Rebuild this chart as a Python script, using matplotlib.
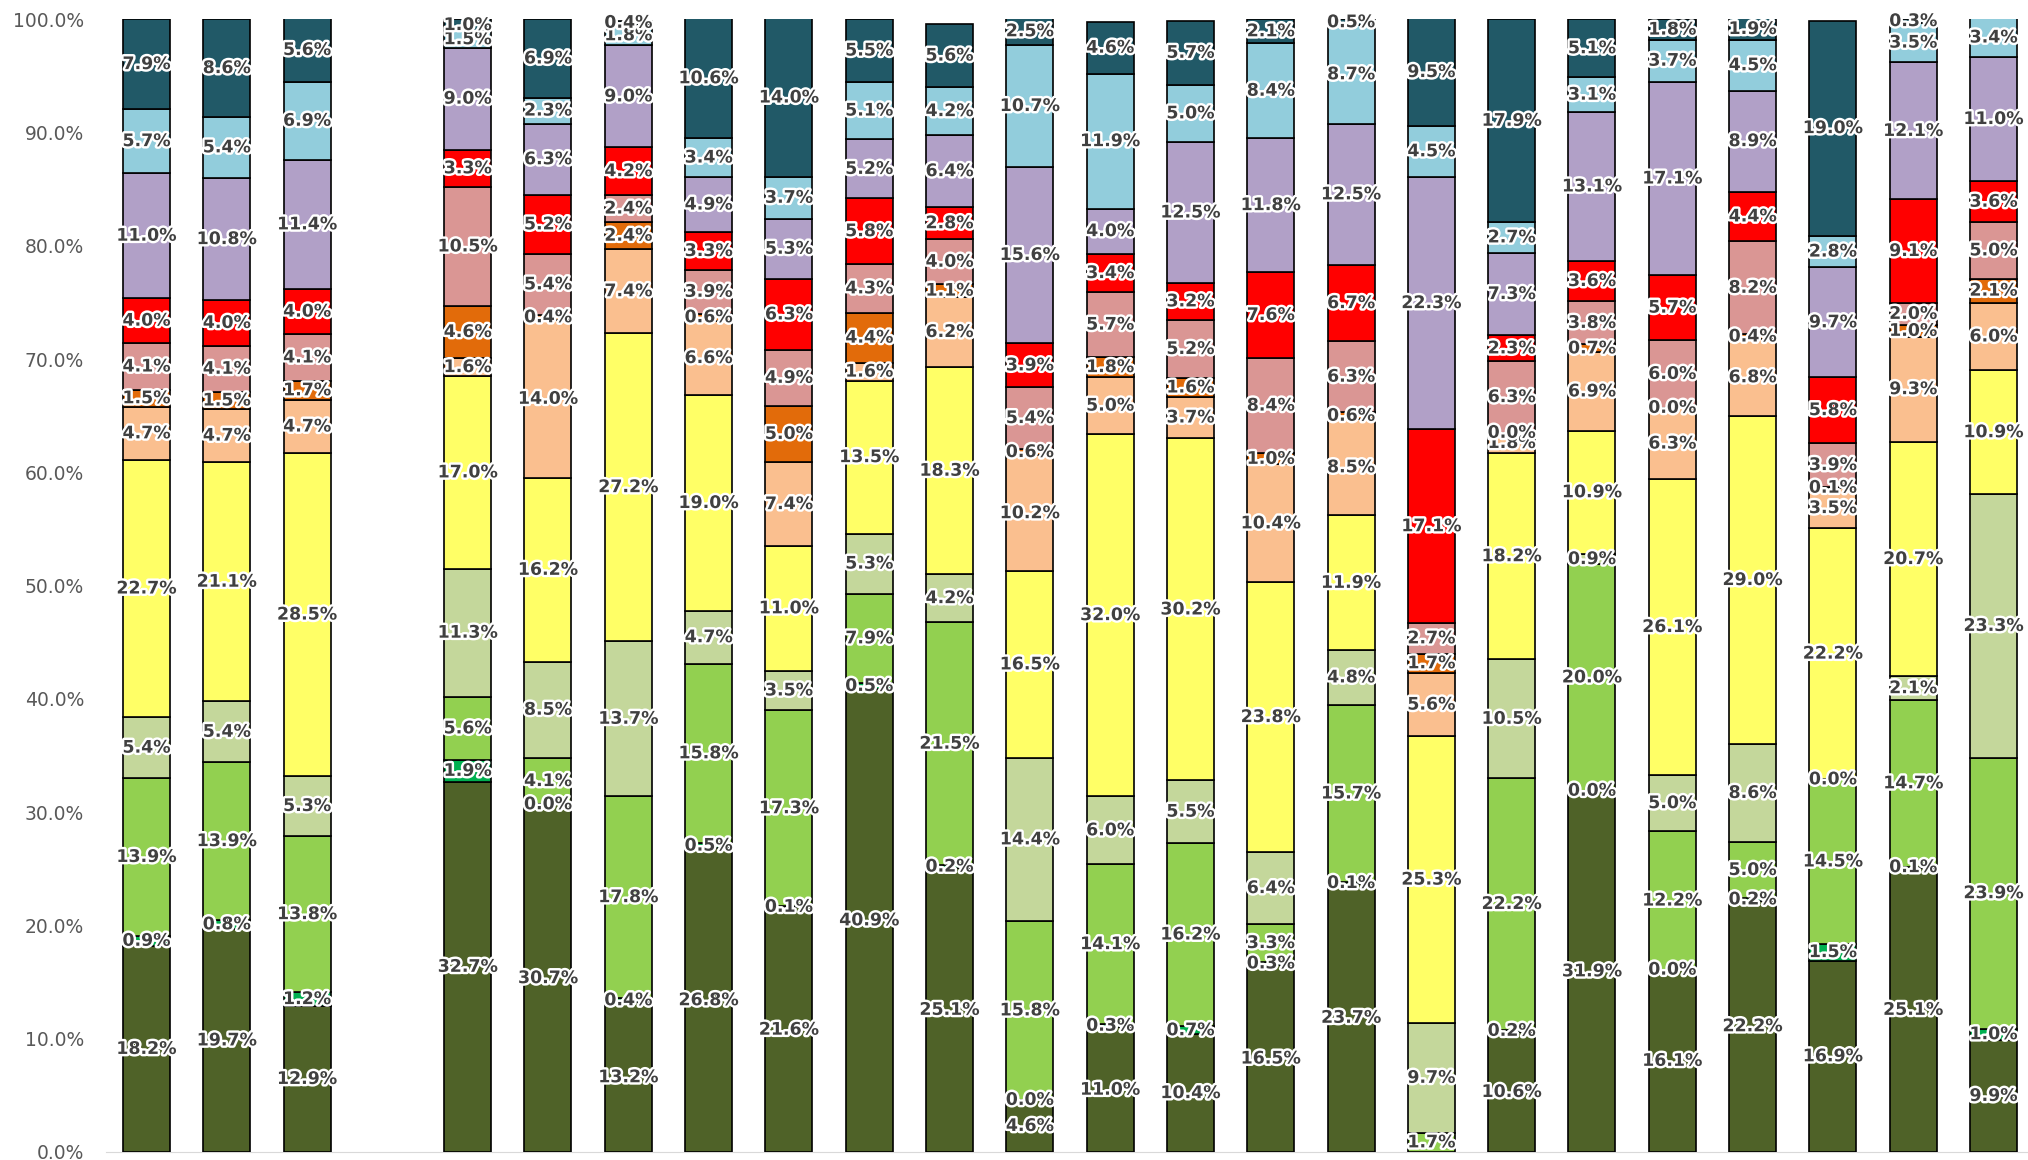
import matplotlib
matplotlib.use("Agg")
import matplotlib.pyplot as plt
import matplotlib.patheffects as pe
from matplotlib.ticker import FuncFormatter, MultipleLocator
import numpy as np

# share (%) of each class per column, stacked bottom to top; None = no entry
dark_olive = [18.2, 19.7, 12.9, 32.7, 30.7, 13.2, 26.8, 21.6, 40.9, 25.1, 4.6, 11.0,
              10.4, 16.5, 23.7, None, 10.6, 31.9, 16.1, 22.2, 16.9, 25.1, 9.9]
green = [0.9, 0.8, 1.2, 1.9, 0.0, 0.4, 0.5, 0.1, 0.5, 0.2, 0.0, 0.3,
         0.7, 0.3, 0.1, None, 0.2, 0.0, 0.0, 0.2, 1.5, 0.1, 1.0]
light_green = [13.9, 13.9, 13.8, 5.6, 4.1, 17.8, 15.8, 17.3, 7.9, 21.5, 15.8, 14.1,
               16.2, 3.3, 15.7, 1.7, 22.2, 20.0, 12.2, 5.0, 14.5, 14.7, 23.9]
pale_green = [5.4, 5.4, 5.3, 11.3, 8.5, 13.7, 4.7, 3.5, 5.3, 4.2, 14.4, 6.0,
              5.5, 6.4, 4.8, 9.7, 10.5, 0.9, 5.0, 8.6, 0.0, 2.1, 23.3]
yellow = [22.7, 21.1, 28.5, 17.0, 16.2, 27.2, 19.0, 11.0, 13.5, 18.3, 16.5, 32.0,
          30.2, 23.8, 11.9, 25.3, 18.2, 10.9, 26.1, 29.0, 22.2, 20.7, 10.9]
peach = [4.7, 4.7, 4.7, 1.6, 14.0, 7.4, 6.6, 7.4, 1.6, 6.2, 10.2, 5.0,
         3.7, 10.4, 8.5, 5.6, 1.8, 6.9, 6.3, 6.8, 3.5, 9.3, 6.0]
orange = [1.5, 1.5, 1.7, 4.6, 0.4, 2.4, 0.6, 5.0, 4.4, 1.1, 0.6, 1.8,
          1.6, 1.0, 0.6, 1.7, 0.0, 0.7, 0.0, 0.4, 0.1, 1.0, 2.1]
pink = [4.1, 4.1, 4.1, 10.5, 5.4, 2.4, 3.9, 4.9, 4.3, 4.0, 5.4, 5.7,
        5.2, 8.4, 6.3, 2.7, 6.3, 3.8, 6.0, 8.2, 3.9, 2.0, 5.0]
red = [4.0, 4.0, 4.0, 3.3, 5.2, 4.2, 3.3, 6.3, 5.8, 2.8, 3.9, 3.4,
       3.2, 7.6, 6.7, 17.1, 2.3, 3.6, 5.7, 4.4, 5.8, 9.1, 3.6]
lavender = [11.0, 10.8, 11.4, 9.0, 6.3, 9.0, 4.9, 5.3, 5.2, 6.4, 15.6, 4.0,
            12.5, 11.8, 12.5, 22.3, 7.3, 13.1, 17.1, 8.9, 9.7, 12.1, 11.0]
light_blue = [5.7, 5.4, 6.9, 1.5, 2.3, 1.8, 3.4, 3.7, 5.1, 4.2, 10.7, 11.9,
              5.0, 8.4, 8.7, 4.5, 2.7, 3.1, 3.7, 4.5, 2.8, 3.5, 3.4]
dark_teal = [7.9, 8.6, 5.6, 1.0, 6.9, 0.4, 10.6, 14.0, 5.5, 5.6, 2.5, 4.6,
             5.7, 2.1, 0.5, 9.5, 17.9, 5.1, 1.8, 1.9, 19.0, 0.3, None]

series = [
    (dark_olive, "#4F6228"),
    (green, "#00B050"),
    (light_green, "#92D050"),
    (pale_green, "#C4D79B"),
    (yellow, "#FFFF66"),
    (peach, "#FABF8F"),
    (orange, "#E26B0A"),
    (pink, "#DA9694"),
    (red, "#FF0000"),
    (lavender, "#B1A0C7"),
    (light_blue, "#92CDDC"),
    (dark_teal, "#215967"),
]

# three columns, one empty slot, then twenty columns
pos = np.array([0, 1, 2] + list(range(4, 24)))

fig = plt.figure(figsize=(20.28, 11.6), dpi=100)
ax = fig.add_axes([0.0524, 0.0069, 0.9476, 0.9764])

glow = [pe.withStroke(linewidth=3.5, foreground="white")]
bottom = np.zeros(len(pos))
for vals, col in series:
    h = np.array([0.0 if v is None else v for v in vals])
    ax.bar(pos, h, bottom=bottom, width=0.585, color=col,
           edgecolor="black", linewidth=1.2, zorder=2)
    for x, b, v in zip(pos, bottom, vals):
        if v is None:
            continue
        ax.text(x, b + v / 2, f"{v:.1f}%", ha="center", va="center",
                fontsize=12.5, fontweight="bold", color="#404040",
                path_effects=glow, zorder=5)
    bottom += h

ax.set_xlim(-0.5, 23.43)
ax.set_ylim(0, 100)
ax.yaxis.set_major_locator(MultipleLocator(10))
ax.yaxis.set_major_formatter(FuncFormatter(lambda v, _: f"{v:.1f}%"))
ax.set_xticks([])
ax.tick_params(axis="y", length=0, pad=16, labelsize=13.5, labelcolor="#595959")
for s in ("left", "top", "right"):
    ax.spines[s].set_visible(False)
ax.spines["bottom"].set_color("#D9D9D9")
ax.spines["bottom"].set_zorder(1)

fig.savefig("out.png", dpi=100)
